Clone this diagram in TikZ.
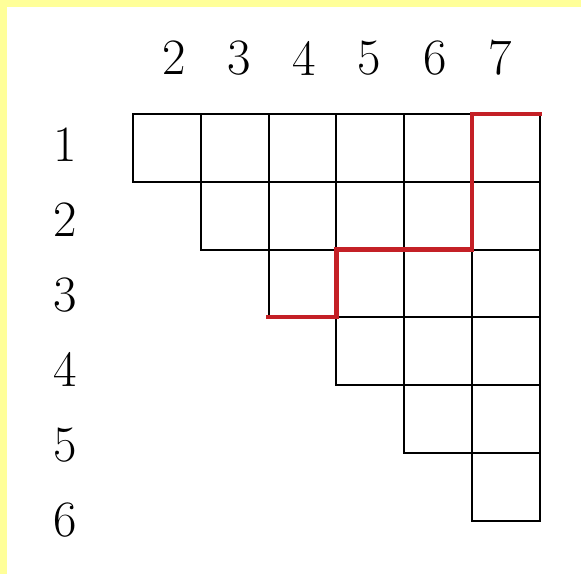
\documentclass[tikz,border=0pt]{standalone}
\usepackage{tikz}
\usetikzlibrary{positioning}
\definecolor{frameyellow}{RGB}{255,255,153}
\definecolor{pathred}{RGB}{196,32,38}

\begin{document}
\begin{tikzpicture}[
        x=1.356cm,
        y=-1.356cm,
        cell/.style={
            draw=black,
            line width=1.1pt
        },
        route/.style={
            draw=pathred,
            line width=2.4pt,
            line cap=rect
        },
        lbl/.style={
            inner sep=0pt,
            font=\fontsize{29}{34}\selectfont
        }
    ]

        % page with the yellow edge at top and left
        \useasboundingbox (-1.962,-1.681) rectangle (6.608,6.785);
        \fill[white] (-1.962,-1.681) rectangle (6.608,6.785);
        \fill[frameyellow] (-1.962,-1.681) rectangle (6.608,-1.578);
        \fill[frameyellow] (-1.962,-1.681) rectangle (-1.858,6.785);

        % staircase of cells
        \foreach \r in {1,...,6} {
            \foreach \c in {\r,...,6} {
                \draw[cell] (\c-1,\r-1) rectangle (\c,\r);
            }
        }

        % column labels
        \foreach \k [count=\i from 0] in {2,...,7} {
            \node[lbl] (col\k) at (0.605+0.962*\i,-0.826) {\k};
        }

        % row labels
        \foreach \k [count=\i from 0] in {1,...,6} {
            \node[lbl] (row\k) at (-1.003,0.457+1.106*\i) {\k};
        }

        % red path
        \coordinate (p0) at (2,3);
        \coordinate (p1) at (3,3);
        \coordinate (p2) at (3,2);
        \coordinate (p3) at (5,2);
        \coordinate (p4) at (5,0);
        \coordinate (p5) at (6,0);
        \draw[route] (p0) -- (p1) -- (p2) -- (p3) -- (p4) -- (p5);

    \end{tikzpicture}
\end{document}
